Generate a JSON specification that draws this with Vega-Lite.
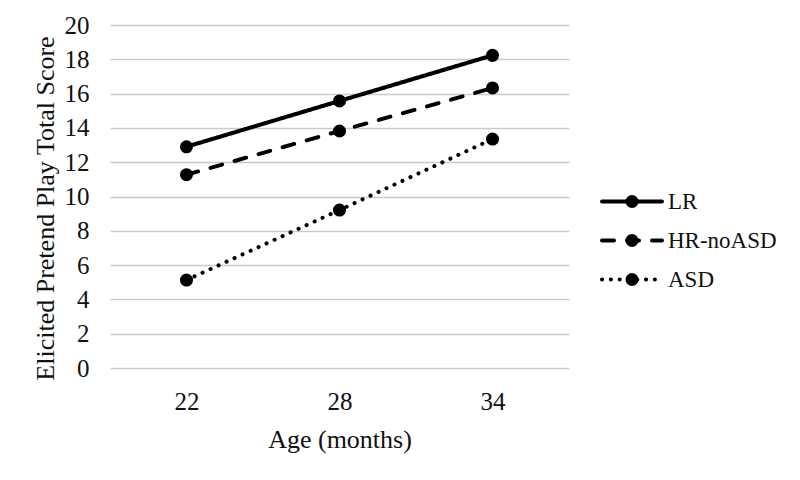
{
  "$schema": "https://vega.github.io/schema/vega-lite/v6.json",
  "width": 459,
  "height": 343,
  "autosize": {"type": "none"},
  "padding": {"left": 110, "top": 25, "right": 231, "bottom": 112},
  "background": "white",
  "config": {
    "font": "Liberation Serif",
    "view": {"stroke": null},
    "axis": {"labelFont": "Liberation Serif", "titleFont": "Liberation Serif", "labelColor": "#111", "titleColor": "#111", "titleFontWeight": "normal"},
    "legend": {"labelFont": "Liberation Serif", "labelColor": "#111"}
  },
  "data": {
    "values": [
      {"group": "LR", "age": "22", "score": 12.9},
      {"group": "LR", "age": "28", "score": 15.57},
      {"group": "LR", "age": "34", "score": 18.23},
      {"group": "HR-noASD", "age": "22", "score": 11.27},
      {"group": "HR-noASD", "age": "28", "score": 13.82},
      {"group": "HR-noASD", "age": "34", "score": 16.33},
      {"group": "ASD", "age": "22", "score": 5.13},
      {"group": "ASD", "age": "28", "score": 9.21},
      {"group": "ASD", "age": "34", "score": 13.35}
    ]
  },
  "encoding": {
    "x": {
      "field": "age", "type": "ordinal", "sort": null,
      "scale": {"type": "point", "padding": 0.5},
      "axis": {"title": "Age (months)", "labelAngle": 0, "labelFontSize": 25, "titleFontSize": 26, "labelPadding": 21, "titlePadding": 12, "ticks": false, "tickSize": 0, "domain": false, "grid": false}
    },
    "y": {
      "field": "score", "type": "quantitative",
      "scale": {"domain": [0, 20], "nice": false, "zero": true},
      "axis": {"title": "Elicited Pretend Play Total Score", "values": [0,2,4,6,8,10,12,14,16,18,20], "labelFontSize": 25, "titleFontSize": 26, "labelPadding": 21, "ticks": false, "tickSize": 0, "domain": false, "grid": true, "gridColor": "#cacaca", "gridWidth": 1.5, "titleX": -57, "titleY": 183, "titleBaseline": "alphabetic", "titleAngle": -90}
    }
  },
  "layer": [
    {
      "mark": {"type": "line", "color": "black", "strokeWidth": 4, "strokeCap": "round"},
      "encoding": {
        "strokeDash": {
          "field": "group", "type": "nominal",
          "scale": {"domain": ["LR", "HR-noASD", "ASD"], "range": [[1, 0], [12, 13], [0.1, 8.7]]},
          "legend": {
            "title": null, "orient": "none", "legendX": 480.5, "legendY": 165, "padding": 0,
            "symbolType": "M0,0H12", "symbolSize": 100, "symbolStrokeWidth": 4, "symbolStrokeColor": "black", "symbolFillColor": "transparent",
            "labelFontSize": 23, "labelOffset": 54.5, "rowPadding": 15,
            "encode": {"symbols": {"update": {"strokeCap": {"value": "round"}}}}
          }
        }
      }
    },
    {
      "mark": {"type": "point", "filled": true, "color": "black", "size": 170, "opacity": 1},
      "encoding": {
        "shape": {
          "field": "group", "type": "nominal", "sort": null,
          "scale": {"range": ["circle", "circle", "circle"]},
          "legend": {
            "title": null, "orient": "none", "legendX": 510.5, "legendY": 165, "padding": 0,
            "symbolSize": 170, "symbolStrokeWidth": 0, "symbolFillColor": "black", "symbolOpacity": 1,
            "labelFontSize": 23, "labelExpr": "''", "rowPadding": 15
          }
        }
      }
    }
  ]
}
